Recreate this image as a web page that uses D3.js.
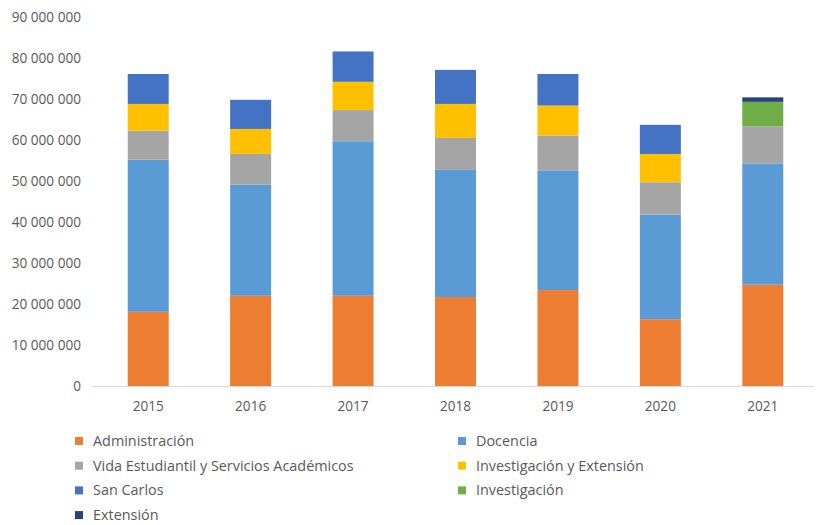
<!DOCTYPE html>
<html>
<head>
<meta charset="utf-8">
<script src="https://cdn.jsdelivr.net/npm/d3@7"></script>
<style>
  html, body { margin: 0; padding: 0; background: #fff; }
  svg { display: block; font-family: "Open Sans", "Noto Sans", sans-serif; }
</style>
</head>
<body>
<svg id="chart" width="817" height="525"></svg>
<script>
// Budget by programme, per year (colones)
const years = ["2015", "2016", "2017", "2018", "2019", "2020", "2021"];
const seriesNames = [
  "Administración",
  "Docencia",
  "Vida Estudiantil y Servicios Académicos",
  "Investigación y Extensión",
  "San Carlos",
  "Investigación",
  "Extensión"
];
const administracion = [18100000, 22000000, 22000000, 21700000, 23400000, 16300000, 24700000];
const docencia       = [37100000, 27100000, 37700000, 31000000, 29200000, 25500000, 29600000];
const vidaEstudiantil = [7100000, 7500000, 7600000, 7800000, 8500000, 7900000, 9000000];
const invExtension   = [6500000, 6100000, 6900000, 8300000, 7300000, 6900000, 0];
const sanCarlos      = [7300000, 7100000, 7400000, 8300000, 7700000, 7100000, 0];
const investigacion  = [0, 0, 0, 0, 0, 0, 6000000];
const extension      = [0, 0, 0, 0, 0, 0, 1100000];
const yTicks = [0, 10000000, 20000000, 30000000, 40000000, 50000000, 60000000, 70000000, 80000000, 90000000];
const colors = ["#ED7D31", "#5B9BD5", "#A5A5A5", "#FFC000", "#4472C4", "#70AD47", "#264478"];

const seriesValues = [administracion, docencia, vidaEstudiantil, invExtension, sanCarlos, investigacion, extension];
const rows = years.map((yr, i) => {
  const r = { year: yr };
  seriesNames.forEach((n, k) => { r[n] = seriesValues[k][i]; });
  return r;
});

const svg = d3.select("#chart");
const x = d3.scaleBand().domain(years).range([97, 814]).paddingInner(0.6).paddingOuter(0.3);
const y = d3.scaleLinear().domain([0, 90000000]).range([386, 17]);
const color = d3.scaleOrdinal().domain(seriesNames).range(colors);

const fmt = v => d3.format(",")(v).replace(/,/g, " ");

// Y axis labels (no line, no ticks)
const yAxis = svg.append("g")
  .attr("transform", "translate(81,0)")
  .call(d3.axisLeft(y).tickValues(yTicks).tickFormat(fmt).tickSize(0).tickPadding(0));
yAxis.select(".domain").remove();
yAxis.selectAll("text").attr("fill", "#595959").style("font-size", "13.6px")
  .style("font-family", "'Open Sans', sans-serif");

// Stacked bars
const stacked = d3.stack().keys(seriesNames)(rows);
svg.append("g").selectAll("g")
  .data(stacked)
  .join("g")
  .attr("fill", d => color(d.key))
  .selectAll("rect")
  .data(d => d.filter(p => p[1] - p[0] > 0))
  .join("rect")
  .attr("x", d => x(d.data.year))
  .attr("width", x.bandwidth())
  .attr("y", d => y(d[1]))
  .attr("height", d => y(d[0]) - y(d[1]));

// X axis
const xAxis = svg.append("g")
  .attr("transform", "translate(0,386.5)")
  .call(d3.axisBottom(x).tickSize(0).tickPadding(15));
xAxis.select(".domain").attr("stroke", "#D9D9D9").attr("d", "M92,0H814");
xAxis.selectAll("text").attr("fill", "#595959").style("font-size", "13.6px")
  .style("font-family", "'Open Sans', sans-serif");

// Legend: two columns, filled row by row
const legend = svg.append("g");
const item = legend.selectAll("g")
  .data(seriesNames)
  .join("g")
  .attr("transform", (d, i) => {
    const col = i % 2, row = Math.floor(i / 2);
    return `translate(${col === 0 ? 75 : 458},${441 + row * 24.7})`;
  });
item.append("rect")
  .attr("x", 0).attr("y", -4).attr("width", 8).attr("height", 8)
  .attr("fill", d => color(d));
item.append("text")
  .attr("x", 18).attr("y", 0).attr("dy", "0.35em")
  .attr("fill", "#595959").style("font-size", "14.4px")
  .text(d => d);
</script>
</body>
</html>
